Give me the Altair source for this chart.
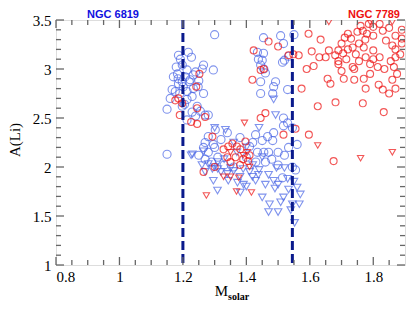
import altair as alt
import pandas as pd

# ---------------- data ----------------
# NGC 6819 - Li detections (blue circles)
n6819_det_x = [1.186, 1.217, 1.227, 1.192, 1.179, 1.198, 1.213, 1.265, 1.261, 1.170, 1.183, 1.207, 1.233,
               1.223, 1.198, 1.186, 1.220, 1.166, 1.176, 1.213, 1.233, 1.248, 1.265, 1.201, 1.213, 1.229,
               1.245, 1.198, 1.150, 1.229, 1.255, 1.213, 1.240, 1.270, 1.190, 1.205, 1.185, 1.240, 1.250,
               1.160, 1.300, 1.296, 1.150,
               1.454, 1.508, 1.550, 1.517, 1.435, 1.454, 1.438, 1.450, 1.445, 1.514, 1.520, 1.533, 1.445,
               1.492, 1.486, 1.483, 1.445, 1.530, 1.460, 1.455,
               1.280, 1.302, 1.280, 1.270, 1.296, 1.265, 1.280, 1.310, 1.300, 1.320, 1.340, 1.517, 1.530,
               1.545, 1.517, 1.560, 1.533, 1.429, 1.450, 1.467, 1.486, 1.435, 1.455, 1.470, 1.483, 1.410,
               1.420, 1.400, 1.430, 1.460, 1.480, 1.500, 1.514, 1.555, 1.545, 1.500, 1.520, 1.380, 1.360,
               1.330, 1.290, 1.270, 1.250]
n6819_det_y = [3.14, 3.17, 3.12, 3.10, 3.02, 3.04, 2.99, 3.04, 3.00, 2.92, 2.95, 2.92, 2.94,
               2.89, 2.87, 2.85, 2.87, 2.79, 2.77, 2.77, 2.80, 2.82, 2.75, 2.82, 2.69, 2.72,
               2.62, 2.62, 2.59, 2.56, 2.57, 2.48, 2.52, 2.53, 2.75, 2.64, 2.90, 2.97, 2.88,
               2.70, 3.35, 2.99, 2.13,
               3.32, 3.34, 3.35, 3.26, 3.17, 3.16, 3.10, 3.09, 3.04, 3.07, 3.09, 3.13, 2.87,
               2.87, 2.82, 2.75, 2.75, 2.79, 2.96, 3.00,
               2.53, 2.38, 2.31, 2.25, 2.23, 2.20, 2.15, 2.10, 2.20, 2.28, 2.35, 2.50, 2.45,
               2.40, 2.42, 2.23, 2.20, 2.33, 2.27, 2.31, 2.35, 2.15, 2.15, 2.15, 2.27, 2.21,
               2.25, 2.10, 2.05, 2.05, 2.08, 2.02, 1.89, 1.97, 2.00, 2.15, 2.12, 2.30, 2.00,
               2.02, 2.05, 2.08, 2.12]

# NGC 6819 - Li upper limits (blue triangles)
n6819_lim_x = [1.226, 1.265, 1.230, 1.334, 1.280, 1.300, 1.296, 1.309, 1.343, 1.372, 1.391, 1.381, 1.293,
               1.310, 1.350, 1.419, 1.495, 1.520, 1.438, 1.429, 1.460, 1.486, 1.500, 1.450, 1.517, 1.508,
               1.473, 1.470, 1.500, 1.540, 1.552, 1.560, 1.570, 1.567, 1.545, 1.533, 1.486, 1.492, 1.400,
               1.370, 1.320, 1.340, 1.360, 1.390, 1.410, 1.440, 1.470, 1.260, 1.270, 1.330, 1.380, 1.420,
               1.450, 1.550, 1.530, 1.490, 1.400, 1.310, 1.360, 1.440, 1.300]
n6819_lim_y = [2.12, 2.16, 2.13, 2.38, 2.03, 2.00, 1.86, 1.76, 1.86, 1.84, 1.82, 1.74, 1.98,
               1.98, 1.99, 1.90, 1.99, 1.99, 1.92, 1.86, 1.82, 1.86, 1.82, 1.69, 1.69, 1.64,
               1.62, 1.54, 1.54, 1.56, 1.43, 1.79, 1.72, 1.62, 1.62, 1.77, 2.69, 2.53, 2.20,
               2.15, 1.95, 1.93, 1.96, 1.98, 1.95, 1.97, 1.92, 2.02, 1.95, 2.08, 1.90, 2.02,
               2.10, 1.85, 1.88, 1.78, 1.80, 2.05, 2.25, 2.40, 2.40]

# NGC 7789 - Li detections (red circles)
n7789_det_x = [1.176, 1.186, 1.198, 1.190, 1.252, 1.242, 1.245, 1.226, 1.245, 1.270, 1.293, 1.265,
               1.328, 1.343, 1.356, 1.370, 1.381, 1.397, 1.366, 1.390, 1.405, 1.340, 1.350, 1.380,
               1.410, 1.300,
               1.470, 1.500, 1.423, 1.445, 1.455, 1.419, 1.533, 1.548, 1.565, 1.445, 1.460, 1.517,
               1.555, 1.597,
               1.596, 1.634, 1.606, 1.590, 1.612, 1.574, 1.625, 1.681, 1.767, 1.833, 1.675,
               1.650, 1.660, 1.690, 1.690, 1.700, 1.705, 1.720, 1.730, 1.735, 1.745, 1.750, 1.767,
               1.775, 1.786, 1.800, 1.800, 1.830, 1.840, 1.860, 1.870, 1.870, 1.870, 1.865, 1.870,
               1.850, 1.830, 1.817, 1.860, 1.814, 1.835, 1.770, 1.776, 1.740, 1.707, 1.665, 1.656,
               1.700, 1.735, 1.690, 1.776, 1.800, 1.820, 1.800, 1.770, 1.755, 1.715, 1.755, 1.890,
               1.890, 1.890, 1.885, 1.720, 1.710, 1.760, 1.820, 1.850, 1.780, 1.680, 1.740, 1.790,
               1.630, 1.855, 1.875, 1.790]
n7789_det_y = [2.68, 2.70, 2.65, 2.53, 2.95, 2.82, 2.60, 2.46, 2.44, 2.51, 2.31, 1.95,
               2.18, 2.21, 2.24, 2.21, 2.18, 2.26, 2.10, 2.08, 2.06, 2.10, 2.05, 2.02,
               2.12, 2.00,
               3.28, 3.23, 3.19, 2.99, 3.00, 2.89, 3.14, 3.15, 3.14, 2.50, 2.55, 2.33,
               2.39, 2.33,
               3.36, 3.30, 3.18, 3.00, 3.03, 2.80, 2.62, 2.66, 2.65, 2.56, 2.06,
               3.12, 3.19, 3.19, 3.08, 3.26, 3.16, 3.36, 3.31, 3.22, 3.15, 3.38, 3.39,
               3.30, 3.46, 3.34, 3.43, 3.39, 3.29, 3.24, 3.34, 3.20, 3.12, 3.02, 2.80,
               2.75, 2.79, 2.84, 2.89, 3.02, 3.00, 2.90, 2.80, 2.89, 2.90, 2.85, 2.90,
               2.98, 3.02, 3.05, 3.12, 3.10, 3.12, 3.19, 3.22, 3.26, 3.10, 3.08, 3.31,
               3.26, 3.40, 3.15, 3.20, 3.32, 3.44, 3.46, 3.42, 3.36, 3.14, 3.00, 3.05,
               3.12, 3.08, 2.95, 2.95]

# NGC 7789 - Li upper limits (red triangles)
n7789_lim_x = [1.274, 1.369, 1.416, 1.350, 1.328, 1.376, 1.350, 1.403, 1.394, 1.625, 1.760, 1.860,
               1.660, 1.790, 1.860, 1.410, 1.390]
n7789_lim_y = [1.71, 1.75, 1.74, 1.90, 1.90, 1.89, 2.15, 2.15, 2.45, 2.22, 2.09, 2.15,
               3.48, 3.48, 3.48, 2.00, 2.12]

mass_cuts = [1.2, 1.545]

x_major = [0.8, 1.0, 1.2, 1.4, 1.6, 1.8]
x_minor = [0.85, 0.9, 0.95, 1.05, 1.1, 1.15, 1.25, 1.3, 1.35, 1.45, 1.5, 1.55,
           1.65, 1.7, 1.75, 1.85]
y_major = [1.0, 1.5, 2.0, 2.5, 3.0, 3.5]
y_minor = [1.1, 1.2, 1.3, 1.4, 1.6, 1.7, 1.8, 1.9, 2.1, 2.2, 2.3, 2.4,
           2.6, 2.7, 2.8, 2.9, 3.1, 3.2, 3.3, 3.4]

# ---------------- build tables ----------------
frames = []
for xs_, ys_, grp in [(n6819_det_x, n6819_det_y, "6819 det"),
                      (n6819_lim_x, n6819_lim_y, "6819 lim"),
                      (n7789_det_x, n7789_det_y, "7789 det"),
                      (n7789_lim_x, n7789_lim_y, "7789 lim")]:
    frames.append(pd.DataFrame({"mass": xs_, "ALi": ys_, "grp": grp}))
pts = pd.concat(frames, ignore_index=True)

W, H = 349, 245
XD, YD = [0.8, 1.9], [1.0, 3.5]
FRAME = "#666666"
BLUE = "#4a66e6"
RED = "#ee1111"

xs = alt.Scale(domain=XD, nice=False, zero=False)
ys = alt.Scale(domain=YD, nice=False, zero=False)

base_axes = alt.Chart(pd.DataFrame({"mass": [1.0], "ALi": [2.0]})).mark_point(opacity=0).encode(
    x=alt.X("mass:Q", scale=xs,
            axis=alt.Axis(values=x_major, format="~g", title=None, ticks=False, domain=False,
                          grid=False, labelPadding=4, labelFont="Liberation Serif",
                          labelFontSize=15, labelColor="black")),
    y=alt.Y("ALi:Q", scale=ys,
            axis=alt.Axis(values=y_major, format="~g", title=None, ticks=False, domain=False,
                          grid=False, labelPadding=5, labelFont="Liberation Serif",
                          labelFontSize=15, labelColor="black")),
)

groups = ["6819 det", "6819 lim", "7789 det", "7789 lim"]
color_scale = alt.Scale(domain=groups, range=[BLUE, BLUE, RED, RED])
shape_scale = alt.Scale(domain=groups, range=["circle", "triangle-down", "circle", "triangle-down"])
size_scale = alt.Scale(domain=groups, range=[66, 40, 72, 42])
sw_scale = alt.Scale(domain=groups, range=[1.1, 1.1, 1.6, 1.6])

points = alt.Chart(pts).mark_point(filled=False, clip=True).encode(
    x=alt.X("mass:Q", scale=xs),
    y=alt.Y("ALi:Q", scale=ys),
    color=alt.Color("grp:N", scale=color_scale, legend=None),
    shape=alt.Shape("grp:N", scale=shape_scale, legend=None),
    size=alt.Size("grp:N", scale=size_scale, legend=None),
    strokeWidth=alt.StrokeWidth("grp:N", scale=sw_scale, legend=None),
)

cuts = alt.Chart(pd.DataFrame({"m": mass_cuts})).mark_rule(
    color="#0a1a8c", strokeWidth=3, strokeDash=[9, 4]
).encode(x=alt.X("m:Q", scale=xs))


def xticks(vals, yval, size, off):
    return alt.Chart(pd.DataFrame({"t": vals})).mark_tick(
        orient="vertical", size=size, thickness=1.3, color=FRAME, yOffset=off, opacity=1
    ).encode(x=alt.X("t:Q", scale=xs), y=alt.datum(yval, scale=ys))


def yticks(vals, xval, size, off):
    return alt.Chart(pd.DataFrame({"t": vals})).mark_tick(
        orient="horizontal", size=size, thickness=1.3, color=FRAME, xOffset=off, opacity=1
    ).encode(y=alt.Y("t:Q", scale=ys), x=alt.datum(xval, scale=xs))


ticks = [
    xticks(x_major, 1.0, 8, -4), xticks(x_minor, 1.0, 5, -2.5),
    xticks(x_major, 3.5, 8, 4), xticks(x_minor, 3.5, 5, 2.5),
    yticks(y_major, 0.8, 8, 4), yticks(y_minor, 0.8, 5, 2.5),
    yticks(y_major, 1.9, 8, -4), yticks(y_minor, 1.9, 5, -2.5),
]

one = pd.DataFrame({"a": [0]})
lab6819 = alt.Chart(one).mark_text(text="NGC 6819", font="Liberation Sans", fontWeight="bold",
                                   fontSize=11, color="#1010e0", baseline="alphabetic",
                                   align="center").encode(x=alt.value(57), y=alt.value(-2))
lab7789 = alt.Chart(one).mark_text(text="NGC 7789", font="Liberation Sans", fontWeight="bold",
                                   fontSize=11, color="#ee1111", baseline="alphabetic",
                                   align="center").encode(x=alt.value(318), y=alt.value(-2))
ytitle = alt.Chart(one).mark_text(text="A(Li)", font="Liberation Serif", fontSize=15,
                                  color="black", angle=270, align="center",
                                  baseline="middle").encode(x=alt.value(-41), y=alt.value(120))
xtitle_m = alt.Chart(one).mark_text(text="M", font="Liberation Serif", fontSize=15,
                                    color="black", align="right",
                                    baseline="alphabetic").encode(x=alt.value(172), y=alt.value(276))
xtitle_s = alt.Chart(one).mark_text(text="solar", font="Liberation Serif", fontSize=10,
                                    fontWeight="bold", color="black", align="left",
                                    baseline="alphabetic").encode(x=alt.value(172), y=alt.value(280))

chart = alt.layer(base_axes, points, cuts, *ticks, lab6819, lab7789, ytitle, xtitle_m, xtitle_s).properties(
    width=W, height=H,
    autosize=alt.AutoSizeParams(type="none"),
    padding={"left": 48, "top": 12, "right": 2, "bottom": 36},
).configure_view(stroke=FRAME, strokeWidth=2).configure(background="white")

chart.save("out.html", embed_options={"renderer": "svg", "actions": False})
